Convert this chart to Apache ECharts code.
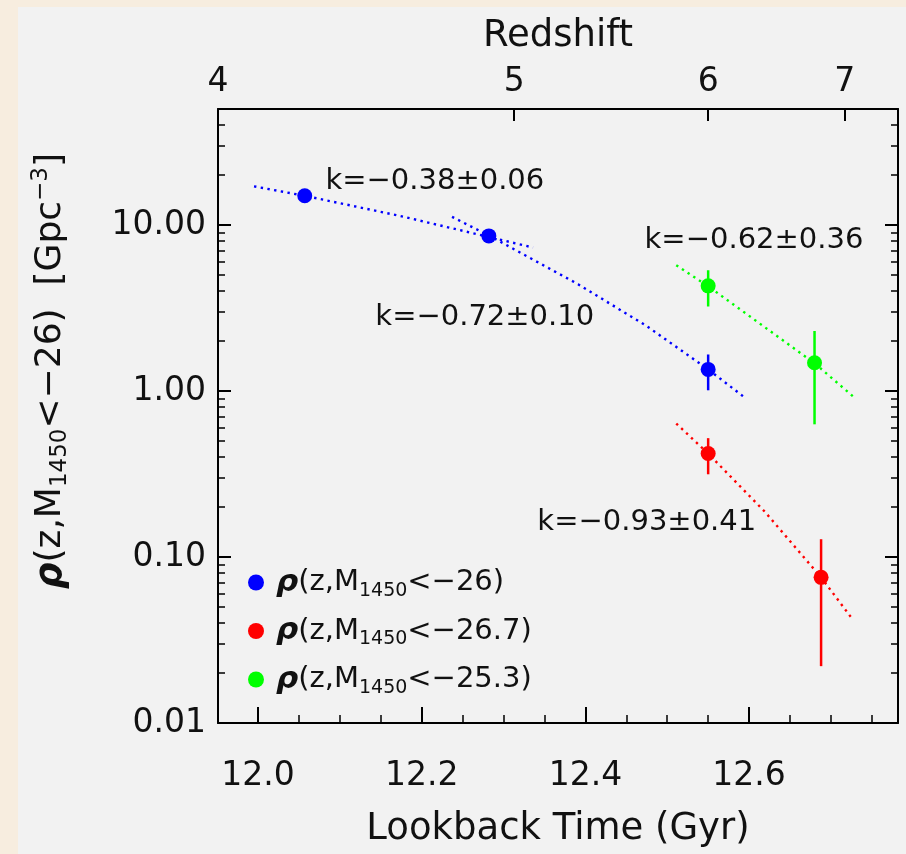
<!DOCTYPE html>
<html>
<head>
<meta charset="utf-8">
<script src="https://cdn.jsdelivr.net/npm/echarts@6/dist/echarts.min.js"></script>
<style>
  html, body { margin: 0; padding: 0; background: #f7eddf; }
  #chart { width: 906px; height: 854px; }
</style>
</head>
<body>
<div id="chart"></div>
<script>
// lookback time (Gyr) and density (Gpc^-3) of each sample
const blueX = [12.057, 12.282, 12.550];
const blueY = [15.0, 8.6, 1.35];
const blueLow = [15.0, 8.6, 1.01];
const blueHigh = [15.0, 8.6, 1.66];

const redX = [12.550, 12.688];
const redY = [0.42, 0.0754];
const redLow = [0.315, 0.022];
const redHigh = [0.52, 0.128];

const greenX = [12.550, 12.680];
const greenY = [4.30, 1.48];
const greenLow = [3.23, 0.63];
const greenHigh = [5.34, 2.30];

// dotted fits
const fitBlueAX = [11.995, 12.057, 12.173, 12.336];
const fitBlueAY = [17.1, 15.0, 11.36, 7.32];
const fitBlueBX = [12.237, 12.283, 12.391, 12.475, 12.550, 12.593];
const fitBlueBY = [11.2, 8.6, 4.40, 2.46, 1.35, 0.927];
const fitGreenX = [12.511, 12.550, 12.680, 12.729];
const fitGreenY = [5.73, 4.28, 1.47, 0.911];
const fitRedX = [12.511, 12.550, 12.619, 12.688, 12.727];
const fitRedY = [0.637, 0.42, 0.188, 0.0754, 0.0418];

// slope annotations
const noteText = ['k=−0.38±0.06', 'k=−0.62±0.36', 'k=−0.72±0.10', 'k=−0.93±0.41'];
const noteX = [12.216, 12.606, 12.277, 12.475];
const noteY = [18.4, 8.03, 2.78, 0.161];

// axes
const xMin = 11.951, xMax = 12.782;
const xMajor = [12.0, 12.2, 12.4, 12.6];
const xMinor = [12.05, 12.1, 12.15, 12.25, 12.3, 12.35, 12.45, 12.5, 12.55, 12.65, 12.7, 12.75];
const redshiftTicks = [4, 5, 6, 7];
const redshiftLookback = [11.951, 12.313, 12.550, 12.717];
const yMin = 0.01, yMax = 50;
const yMajor = [0.01, 0.1, 1, 10];
const yMinor = [0.02, 0.03, 0.04, 0.05, 0.06, 0.07, 0.08, 0.09,
  0.2, 0.3, 0.4, 0.5, 0.6, 0.7, 0.8, 0.9,
  2, 3, 4, 5, 6, 7, 8, 9, 20, 30, 40, 50];

const seriesNames = ['ρ(z,M1450<−26)', 'ρ(z,M1450<−26.7)', 'ρ(z,M1450<−25.3)'];
const seriesCuts = ['−26', '−26.7', '−25.3'];
const colors = ['#0000ff', '#ff0000', '#00ff00'];

const FONT = 'DejaVu Sans';
const INK = '#111';
const zip = (a, b) => a.map((v, i) => [v, b[i]]);
const zip3 = (a, b, c) => a.map((v, i) => [v, b[i], c[i]]);

const lineAxis = { show: true, onZero: false, lineStyle: { color: '#000', width: 2 } };

function errorSeries(name, data, color) {
  return {
    type: 'custom',
    name: name,
    data: data,
    z: 3,
    encode: { x: 0, y: [1, 2] },
    renderItem: (params, api) => {
      const lo = api.coord([api.value(0), api.value(1)]);
      const hi = api.coord([api.value(0), api.value(2)]);
      return {
        type: 'line',
        shape: { x1: lo[0], y1: lo[1], x2: hi[0], y2: hi[1] },
        style: { stroke: color, lineWidth: 2.5 }
      };
    }
  };
}

function fitSeries(name, data, color) {
  return {
    type: 'line',
    name: name,
    data: data,
    symbol: 'none',
    z: 2,
    lineStyle: { color: color, width: 2.4, type: [2.4, 4.4], opacity: 1 }
  };
}

function pointSeries(name, data, color) {
  return {
    type: 'scatter',
    name: name,
    data: data,
    symbol: 'circle',
    symbolSize: 15,
    z: 4,
    itemStyle: { color: color, opacity: 1 }
  };
}

const chart = echarts.init(document.getElementById('chart'));

const option = {
  backgroundColor: '#f7eddf',
  animation: false,
  graphic: [{
    type: 'rect',
    z: -10,
    silent: true,
    shape: { x: 18, y: 7, width: 888, height: 847 },
    style: { fill: '#f2f2f2' }
  }],
  grid: { left: 218, top: 109, width: 680, height: 614, containLabel: false },
  legend: {
    data: seriesNames,
    orient: 'vertical',
    left: 243,
    top: 562,
    icon: 'circle',
    itemWidth: 30,
    itemHeight: 16,
    itemGap: 15,
    formatter: name => {
      const i = seriesNames.indexOf(name);
      return '{rho|ρ}{n|(z,M}{sub|1450}{n|<' + seriesCuts[i] + ')}';
    },
    textStyle: {
      fontFamily: FONT, fontSize: 29, color: INK,
      rich: {
        rho: { fontFamily: FONT, fontSize: 31, fontStyle: 'italic', fontWeight: 'bold', color: INK, lineHeight: 36, verticalAlign: 'middle' },
        n: { fontFamily: FONT, fontSize: 29, color: INK, lineHeight: 36, verticalAlign: 'middle' },
        sub: { fontFamily: FONT, fontSize: 19, color: INK, lineHeight: 17, verticalAlign: 'bottom' }
      }
    }
  },
  xAxis: [
    {
      type: 'value', position: 'bottom', min: xMin, max: xMax,
      axisLine: lineAxis,
      splitLine: { show: false },
      axisTick: { show: true, inside: true, length: 16, customValues: xMajor, lineStyle: { color: '#000', width: 2 } },
      axisLabel: {
        show: true, customValues: xMajor, margin: 37,
        formatter: v => v.toFixed(1),
        fontFamily: FONT, fontSize: 33, color: INK
      },
      name: 'Lookback Time (Gyr)', nameLocation: 'middle', nameGap: 88,
      nameTextStyle: { fontFamily: FONT, fontSize: 37, color: INK }
    },
    {
      type: 'value', position: 'bottom', min: xMin, max: xMax,
      axisLine: { show: false, onZero: false },
      splitLine: { show: false },
      axisTick: { show: true, inside: true, length: 8, customValues: xMinor, lineStyle: { color: '#000', width: 1.5 } },
      axisLabel: { show: false }
    },
    {
      type: 'value', position: 'top', min: xMin, max: xMax,
      axisLine: lineAxis,
      splitLine: { show: false },
      axisTick: { show: true, inside: true, length: 12, customValues: redshiftLookback, lineStyle: { color: '#000', width: 2 } },
      axisLabel: {
        show: true, customValues: redshiftLookback, margin: 10,
        formatter: v => String(redshiftTicks[redshiftLookback.indexOf(v)]),
        fontFamily: FONT, fontSize: 33, color: INK
      },
      name: 'Redshift', nameLocation: 'middle', nameGap: 54,
      nameTextStyle: { fontFamily: FONT, fontSize: 37, color: INK }
    }
  ],
  yAxis: [
    {
      type: 'log', logBase: 10, position: 'left', min: yMin, max: yMax,
      axisLine: lineAxis,
      splitLine: { show: false },
      axisTick: { show: true, inside: true, length: 13, customValues: yMajor, lineStyle: { color: '#000', width: 2 } },
      axisLabel: {
        show: true, customValues: yMajor, margin: 12,
        formatter: v => Number(v).toFixed(2),
        fontFamily: FONT, fontSize: 33, color: INK
      },
      name: '{rho|ρ}{n|(z,M}{sub|1450}{n|<−26)  [Gpc}{sup|−3}{n|]}',
      nameLocation: 'middle', nameGap: 146, nameRotate: 90,
      nameTextStyle: {
        fontFamily: FONT, fontSize: 35, color: INK,
        padding: [0, 0, 0, 90],
        rich: {
          rho: { fontFamily: FONT, fontSize: 37, fontStyle: 'italic', fontWeight: 'bold', color: INK, lineHeight: 42, verticalAlign: 'middle' },
          n: { fontFamily: FONT, fontSize: 36, color: INK, lineHeight: 42, verticalAlign: 'middle' },
          sub: { fontFamily: FONT, fontSize: 23, color: INK, lineHeight: 21, verticalAlign: 'bottom' },
          sup: { fontFamily: FONT, fontSize: 23, color: INK, lineHeight: 21, verticalAlign: 'top' }
        }
      }
    },
    {
      type: 'log', logBase: 10, position: 'left', min: yMin, max: yMax,
      axisLine: { show: false, onZero: false },
      splitLine: { show: false },
      axisTick: { show: true, inside: true, length: 7, customValues: yMinor, lineStyle: { color: '#000', width: 1.5 } },
      axisLabel: { show: false }
    },
    {
      type: 'log', logBase: 10, position: 'right', min: yMin, max: yMax,
      axisLine: lineAxis,
      splitLine: { show: false },
      axisTick: { show: true, inside: true, length: 13, customValues: yMajor, lineStyle: { color: '#000', width: 2 } },
      axisLabel: { show: false }
    },
    {
      type: 'log', logBase: 10, position: 'right', min: yMin, max: yMax,
      axisLine: { show: false, onZero: false },
      splitLine: { show: false },
      axisTick: { show: true, inside: true, length: 7, customValues: yMinor, lineStyle: { color: '#000', width: 1.5 } },
      axisLabel: { show: false }
    }
  ],
  series: [
    fitSeries('fitBlueA', zip(fitBlueAX, fitBlueAY), colors[0]),
    fitSeries('fitBlueB', zip(fitBlueBX, fitBlueBY), colors[0]),
    fitSeries('fitRed', zip(fitRedX, fitRedY), colors[1]),
    fitSeries('fitGreen', zip(fitGreenX, fitGreenY), colors[2]),
    errorSeries('errBlue', zip3(blueX, blueLow, blueHigh), colors[0]),
    errorSeries('errRed', zip3(redX, redLow, redHigh), colors[1]),
    errorSeries('errGreen', zip3(greenX, greenLow, greenHigh), colors[2]),
    pointSeries(seriesNames[0], zip(blueX, blueY), colors[0]),
    pointSeries(seriesNames[1], zip(redX, redY), colors[1]),
    pointSeries(seriesNames[2], zip(greenX, greenY), colors[2]),
    {
      type: 'scatter',
      name: 'notes',
      data: noteText.map((t, i) => [noteX[i], noteY[i], t]),
      symbolSize: 1,
      itemStyle: { color: 'rgba(0,0,0,0)', opacity: 1 },
      z: 5,
      label: {
        show: true, position: 'inside', opacity: 1,
        formatter: p => p.value[2],
        fontFamily: FONT, fontSize: 29, color: INK,
        textBorderWidth: 0
      }
    }
  ]
};

chart.setOption(option);
</script>
</body>
</html>
